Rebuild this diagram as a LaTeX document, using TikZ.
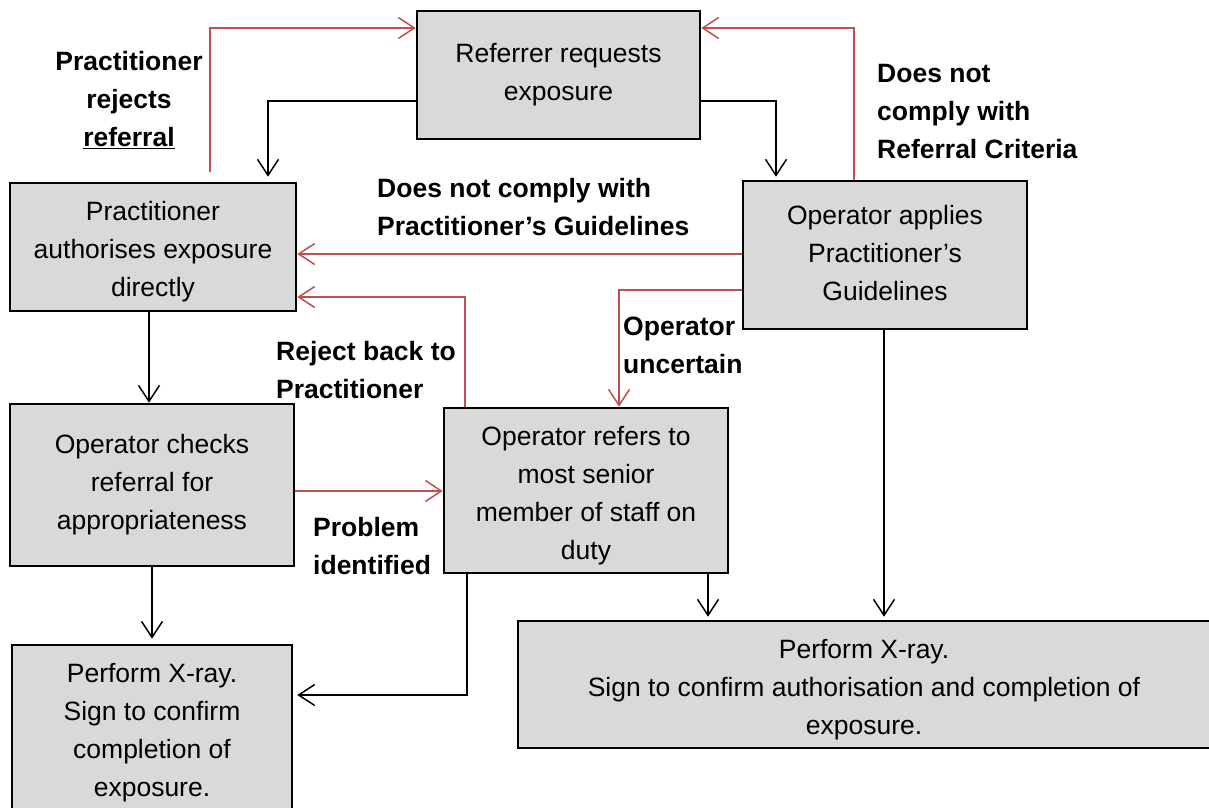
\documentclass[tikz,border=0pt]{standalone}
\usepackage{fontspec}
\setmainfont{Liberation Sans}
\usetikzlibrary{arrows.meta}
\definecolor{boxgray}{HTML}{D9D9D9}
\definecolor{redline}{HTML}{C0504D}
\begin{document}
\begin{tikzpicture}[x=1pt,y=-1pt,
  box/.style={draw=black,line width=2.6pt,fill=boxgray,rectangle,inner sep=0pt},
  txt/.style={inner sep=0pt,align=center,font=\fontsize{26.5}{38}\selectfont},
  lbl/.style={inner sep=0pt,font=\fontsize{26.5}{38}\selectfont\bfseries},
  blk/.style={draw=black,line width=1.5pt,-{Straight Barb[length=16pt,width=21pt,line width=1.5pt]}},
  rd/.style={draw=redline,line width=1.6pt,-{Straight Barb[length=16pt,width=21pt,line width=1.5pt]}}]
\clip (0,0) rectangle (1209,807);
\fill[white] (0,0) rectangle (1209,807);
% boxes
\node[box,minimum width=283pt,minimum height=128pt] (A) at (558.5,75) {};
\node[box,minimum width=286pt,minimum height=128pt] (B) at (153,247) {};
\node[box,minimum width=284pt,minimum height=148pt] (C) at (885,255) {};
\node[box,minimum width=284pt,minimum height=162pt] (D) at (152,485) {};
\node[box,minimum width=284pt,minimum height=165pt] (E) at (586,490.5) {};
\node[box,minimum width=280pt,minimum height=169pt] (F) at (152,729.5) {};
\node[box,minimum width=692pt,minimum height=127pt] (G) at (864,684.5) {};
% box texts
\node[txt] (At) at ([yshift=0pt]A.center) {Referrer requests\\exposure};
\node[txt] (Bt) at ([yshift=-5pt]B.center) {Practitioner\\authorises exposure\\directly};
\node[txt] (Ct) at ([yshift=2pt]C.center) {Operator applies\\Practitioner’s\\Guidelines};
\node[txt] (Dt) at ([yshift=0pt]D.center) {Operator checks\\referral for\\appropriateness};
\node[txt] (Et) at ([yshift=-5pt]E.center) {Operator refers to\\most senior\\member of staff on\\duty};
\node[txt] (Ft) at ([yshift=-3.5pt]F.center) {Perform X-ray.\\Sign to confirm\\completion of\\exposure.};
\node[txt] (Gt) at ([yshift=-5pt]G.center) {Perform X-ray.\\Sign to confirm authorisation and completion of\\exposure.};
% labels
\node[lbl,align=center] (L1) at (129,100.5) {Practitioner\\rejects\\\underline{referral}};
\node[lbl,align=left,anchor=west] (L2) at (877,111.5) {Does not\\comply with\\Referral Criteria};
\node[lbl,align=left,anchor=west] (L3) at (377,207) {Does not comply with\\Practitioner’s Guidelines};
\node[lbl,align=left,anchor=west] (L4) at (623,345) {Operator\\uncertain};
\node[lbl,align=left,anchor=west] (L5) at (276,370) {Reject back to\\Practitioner};
\node[lbl,align=left,anchor=west] (L6) at (313,546) {Problem\\identified};
% connectors
\draw[rd] ([shift={(57pt,10pt)}]B.north) |- ([yshift=47pt]A.west);
\draw[blk] ([yshift=-26pt]A.west) -| ([shift={(115pt,5pt)}]B.north);
\draw[blk] ([yshift=-26pt]A.east) -| ([shift={(-109pt,3pt)}]C.north);
\draw[rd] ([xshift=-31pt]C.north) |- ([yshift=47pt]A.east);
\draw[rd] ([yshift=1pt]C.west) -- ([yshift=1pt]C.west -| B.east);
\draw[rd] ([yshift=-35pt]C.west) -| ([xshift=33pt]E.north);
\draw[rd] ([xshift=-121pt]E.north) |- ([yshift=-50pt]B.east);
\draw[blk] ([xshift=-4pt]B.south) -- ([xshift=-4pt]B.south |- D.north);
\draw[rd] ([yshift=-6pt]D.east) -- ([yshift=-6pt]D.east -| E.west);
\draw[blk] (D.south) -- ([yshift=5pt]D.south |- F.north);
\draw[blk] ([xshift=-119pt]E.south) |- ([shift={(4pt,34.5pt)}]F.east);
\draw[blk] ([xshift=122pt]E.south) -- ([shift={(122pt,3pt)}]E.south |- G.north);
\draw[blk] ([xshift=-1pt]C.south) -- ([shift={(-1pt,3pt)}]C.south |- G.north);
\end{tikzpicture}
\end{document}
